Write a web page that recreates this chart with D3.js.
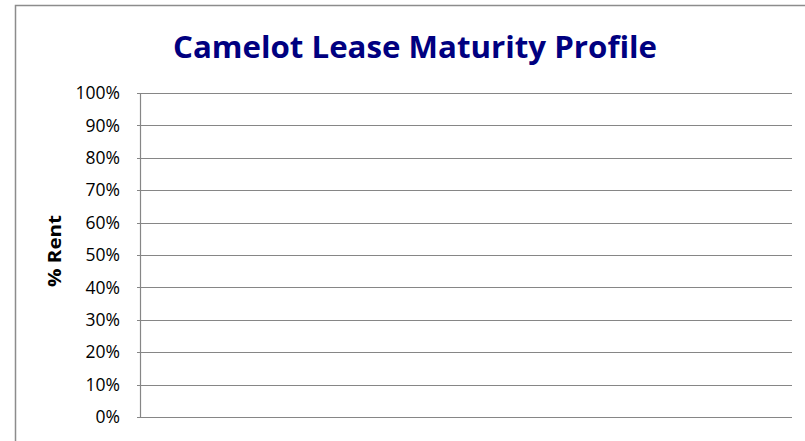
<!DOCTYPE html>
<html>
<head>
<meta charset="utf-8">
<script src="https://cdn.jsdelivr.net/npm/d3@7"></script>
<style>
  body { margin: 0; background: #fff; }
  text { font-family: "Open Sans", "Noto Sans", sans-serif; }
</style>
</head>
<body>
<div id="chart"></div>
<script>
// Chart data (the source chart has no bars drawn)
var title = "Camelot Lease Maturity Profile";
var yLabel = "% Rent";
var categories = [];
var rentShare = [];
var yTicks = [0, 0.1, 0.2, 0.3, 0.4, 0.5, 0.6, 0.7, 0.8, 0.9, 1.0];

function drawChart() {
    var svgWidth = 805;
    var svgHeight = 441;

    var margin = { top: 93, right: 13, bottom: 24, left: 140 };
    var width = svgWidth - margin.left - margin.right;
    var height = svgHeight - margin.top - margin.bottom;

    var svg = d3.select("#chart")
        .append("svg")
        .attr("width", svgWidth)
        .attr("height", svgHeight);

    // Outer chart frame (runs past right/bottom edge)
    svg.append("rect")
        .attr("x", 15.5)
        .attr("y", 5.5)
        .attr("width", 820)
        .attr("height", 460)
        .attr("fill", "#fff")
        .attr("stroke", "#8c8c8c")
        .attr("stroke-width", 1.5);

    svg.append("text")
        .attr("x", 415)
        .attr("y", 58)
        .attr("text-anchor", "middle")
        .style("font-size", "31px")
        .attr("font-weight", "bold")
        .attr("fill", "#000080")
        .attr("textLength", 484)
        .attr("lengthAdjust", "spacingAndGlyphs")
        .text(title);

    var chartGroup = svg.append("g")
        .attr("transform", `translate(${margin.left}, ${margin.top})`);

    var x = d3.scaleBand()
        .domain(categories)
        .range([0, width])
        .padding(0.3);

    var y = d3.scaleLinear()
        .domain([0, 1])
        .range([height, 0]);

    // Gridlines
    chartGroup.append("g")
        .selectAll("line")
        .data(yTicks)
        .enter()
        .append("line")
        .attr("x1", -3)
        .attr("x2", width)
        .attr("y1", d => Math.round(y(d)) + 0.5)
        .attr("y2", d => Math.round(y(d)) + 0.5)
        .attr("stroke", "#868686")
        .attr("stroke-width", 1.2);

    // Y axis
    var yAxis = d3.axisLeft(y)
        .tickValues(yTicks)
        .tickFormat(d3.format(".0%"))
        .tickSize(0)
        .tickPadding(20);

    var yg = chartGroup.append("g").call(yAxis);
    yg.select(".domain").remove();
    yg.selectAll("text")
        .style("font-size", "17.5px")
        .attr("fill", "#000");

    chartGroup.append("line")
        .attr("x1", 0.5).attr("x2", 0.5)
        .attr("y1", 0).attr("y2", height)
        .attr("stroke", "#868686")
        .attr("stroke-width", 1.2);

    // Bars (empty in source)
    chartGroup.selectAll(".bar")
        .data(rentShare)
        .enter()
        .append("rect")
        .attr("class", "bar")
        .attr("x", (d, i) => x(categories[i]))
        .attr("y", d => y(d))
        .attr("width", x.bandwidth())
        .attr("height", d => height - y(d))
        .attr("fill", "#000080");

    svg.append("text")
        .attr("transform", "translate(61, 251) rotate(-90)")
        .attr("text-anchor", "middle")
        .style("font-size", "17.5px")
        .attr("font-weight", "bold")
        .attr("textLength", 72)
        .attr("lengthAdjust", "spacingAndGlyphs")
        .text(yLabel);
}

drawChart();
</script>
</body>
</html>
